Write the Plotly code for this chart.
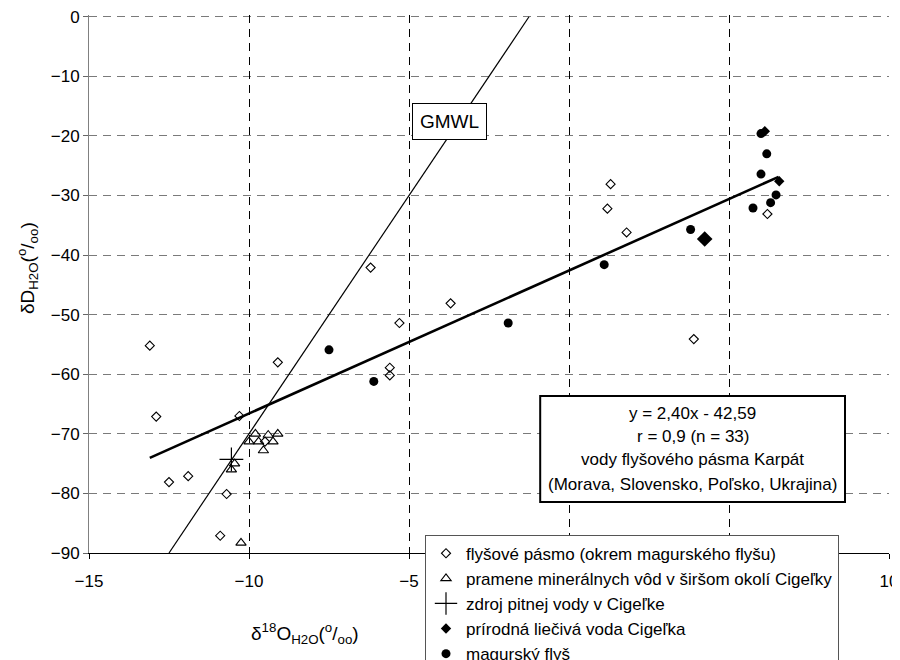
import plotly.graph_objects as go

# ---------------- data ----------------
FLYS_X = [-13.1, -9.1, -12.9, -10.3, -12.5, -11.9, -10.7, -10.9, -9.5,
          -6.2, -3.7, -5.3, -5.6, -5.6, 1.3, 1.2, 1.8, 3.9, 6.2]
FLYS_Y = [-55.2, -58.0, -67.1, -67.0, -78.1, -77.1, -80.1, -87.1, -71.3,
          -42.1, -48.1, -51.4, -58.9, -60.2, -28.1, -32.2, -36.2, -54.1, -33.1]

MIN_X = [-9.8, -10.0, -9.7, -9.55, -9.4, -9.25, -9.1, -10.45, -10.55, -10.25]
MIN_Y = [-70.0, -71.3, -71.3, -72.8, -70.2, -71.3, -70.0, -75.0, -76.0, -88.3]

PITNA_X = [-10.55]
PITNA_Y = [-74.3]

LIEC_X = [6.12, 6.57]
LIEC_Y = [-19.2, -27.6]
LIEC_MAIN_X = [4.24]
LIEC_MAIN_Y = [-37.3]

MAG_X = [-7.5, -6.1, -1.9, 1.1, 3.8, 5.75, 6.0, 6.18, 6.0, 6.47, 6.3]
MAG_Y = [-55.9, -61.2, -51.4, -41.6, -35.7, -32.1, -19.6, -23.0, -26.4, -29.9, -31.2]

REG_SLOPE = 2.40
REG_INTERCEPT = -42.59
REG_X = [-13.1, 6.55]

GMWL_SLOPE = 8.0
GMWL_INTERCEPT = 10.0
GMWL_Y = [-90, 0]

X_TICKS = [-15, -10, -5, 0, 5, 10]
X_GRID = [-10, -5, 0, 5]
Y_TICKS = [0, -10, -20, -30, -40, -50, -60, -70, -80, -90]
Y_RANGE = [-90, 0.3]

LEGEND_NAMES = [
    "flyšové pásmo (okrem magurského flyšu)",
    "pramene minerálnych vôd v širšom okolí Cigeľky",
    "zdroj pitnej vody v Cigeľke",
    "prírodná liečivá voda Cigeľka",
    "magurský flyš",
]
BOX_LINES = [
    "y = 2,40x - 42,59",
    "r = 0,9 (n = 33)",
    "vody flyšového pásma Karpát",
    "(Morava, Slovensko, Poľsko, Ukrajina)",
]

FONT = "Liberation Sans, Arial, sans-serif"

fig = go.Figure()

# helper axis carrying only the vertical dashed grid
fig.add_trace(go.Scatter(x=[], y=[], xaxis="x2", showlegend=False, hoverinfo="skip"))

# lines
fig.add_trace(go.Scatter(
    x=[(y - GMWL_INTERCEPT) / GMWL_SLOPE for y in GMWL_Y], y=GMWL_Y,
    mode="lines", line=dict(color="black", width=1.2), showlegend=False,
    hoverinfo="skip"))
fig.add_trace(go.Scatter(
    x=REG_X, y=[REG_SLOPE * x + REG_INTERCEPT for x in REG_X],
    mode="lines", line=dict(color="black", width=2.6), showlegend=False,
    hoverinfo="skip"))

# points
fig.add_trace(go.Scatter(
    x=FLYS_X, y=FLYS_Y, mode="markers", name=LEGEND_NAMES[0], legendgroup="a",
    marker=dict(symbol="diamond-open", size=7, color="black", line=dict(width=1.1))))
fig.add_trace(go.Scatter(
    x=MIN_X, y=MIN_Y, mode="markers", name=LEGEND_NAMES[1], legendgroup="b",
    marker=dict(symbol="triangle-up-open", size=9, color="black", line=dict(width=1.1))))
fig.add_trace(go.Scatter(
    x=PITNA_X, y=PITNA_Y, mode="markers", name=LEGEND_NAMES[2], legendgroup="c",
    marker=dict(symbol="cross-thin-open", size=17, color="black", line=dict(width=1.2))))
fig.add_trace(go.Scatter(
    x=LIEC_X, y=LIEC_Y, mode="markers", name=LEGEND_NAMES[3], legendgroup="d",
    marker=dict(symbol="diamond", size=8, color="black")))
fig.add_trace(go.Scatter(
    x=LIEC_MAIN_X, y=LIEC_MAIN_Y, mode="markers", name=LEGEND_NAMES[3], legendgroup="d",
    showlegend=False, marker=dict(symbol="diamond", size=12, color="black")))
fig.add_trace(go.Scatter(
    x=MAG_X, y=MAG_Y, mode="markers", name=LEGEND_NAMES[4], legendgroup="e",
    marker=dict(symbol="circle", size=9, color="black")))

# regression info box
BOX_X0, BOX_X1, BOX_Y0, BOX_Y1 = 0.564, 0.945, 0.095, 0.292
fig.add_shape(type="rect", xref="paper", yref="paper",
              x0=BOX_X0, x1=BOX_X1, y0=BOX_Y0, y1=BOX_Y1,
              line=dict(color="black", width=2), fillcolor="white", layer="above")
line_ys = [0.260, 0.216, 0.173, 0.127]
for txt, yy in zip(BOX_LINES, line_ys):
    fig.add_annotation(text=txt, xref="paper", yref="paper",
                       x=(BOX_X0 + BOX_X1) / 2, y=yy, xanchor="center", yanchor="middle",
                       showarrow=False,
                       font=dict(family=FONT, size=17, color="black"))

# GMWL label
fig.add_annotation(text="GMWL", x=-3.72, y=-17.5, xanchor="center", yanchor="middle",
                   showarrow=False,
                   font=dict(family=FONT, size=19, color="black"),
                   bgcolor="white", bordercolor="black", borderwidth=1, borderpad=7)

# axis titles
fig.add_annotation(
    text="δ<sup>18</sup>O<sub>H2O</sub>(<sup>o</sup>/<sub>oo</sub>)",
    xref="paper", yref="paper", x=0.27, y=-0.15, xanchor="center", yanchor="middle",
    showarrow=False,
    font=dict(family=FONT, size=19, color="black"))
fig.add_annotation(
    text="δD<sub>H2O</sub>(<sup>o</sup>/<sub>oo</sub>)",
    xref="paper", yref="paper", x=-0.076, y=0.53, xanchor="center", yanchor="middle",
    showarrow=False, textangle=-90,
    font=dict(family=FONT, size=19, color="black"))

fig.update_layout(
    width=900, height=660,
    margin=dict(l=81, r=19, t=7.2, b=115, autoexpand=False),
    paper_bgcolor="white", plot_bgcolor="white",
    font=dict(family=FONT, size=17, color="black"),
    showlegend=True,
    legend=dict(x=0.42, y=0.034, xanchor="left", yanchor="top",
                bgcolor="white", bordercolor="#555555", borderwidth=1,
                font=dict(family=FONT, size=17, color="black"),
                traceorder="grouped", tracegroupgap=0, itemwidth=30),
    xaxis=dict(range=[-15, 10], tickvals=X_TICKS, ticks="outside", ticklen=5,
               tickcolor="black", showline=True, linecolor="black", linewidth=1,
               showgrid=False, zeroline=False, ticklabelstandoff=8,
               ticklabeloverflow="allow",
               tickfont=dict(family=FONT, size=17, color="black")),
    xaxis2=dict(overlaying="x", matches="x", range=[-15, 10], tickvals=X_GRID,
                showticklabels=False, ticks="", showline=False,
                showgrid=True, gridcolor="black", gridwidth=1, griddash="8px,6px",
                zeroline=False),
    yaxis=dict(range=Y_RANGE, tickvals=Y_TICKS, ticks="outside", ticklen=5,
               tickcolor="#666666", showline=True, linecolor="#808080", linewidth=1,
               showgrid=True, gridcolor="#7a7a7a", gridwidth=1, griddash="8px,6px",
               zeroline=False, ticklabeloverflow="allow",
               tickfont=dict(family=FONT, size=17, color="black")),
)

fig.write_html("out.html")
